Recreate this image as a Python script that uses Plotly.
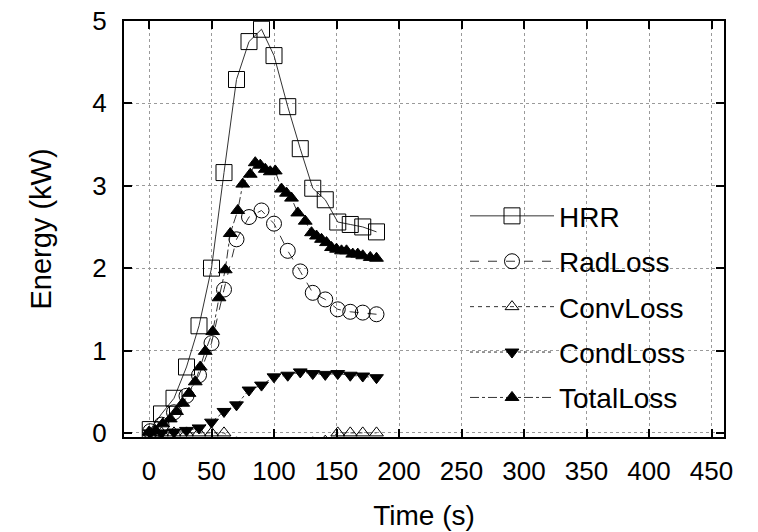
import plotly.graph_objects as go

# ---- data ----
time_s = [1, 10, 20, 30, 40, 50, 60, 70, 80, 90, 100, 111, 121, 131, 141, 151, 161, 171, 182]
hrr = [0.04, 0.23, 0.42, 0.80, 1.30, 2.00, 3.16, 4.29, 4.75, 4.90, 4.58, 3.96, 3.45, 2.97, 2.83, 2.56, 2.53, 2.50, 2.44]
rad_loss = [0.02, 0.10, 0.25, 0.45, 0.70, 1.09, 1.74, 2.35, 2.62, 2.70, 2.54, 2.21, 1.96, 1.70, 1.62, 1.50, 1.47, 1.46, 1.44]
conv_loss = [0.0, 0.0, 0.0, 0.0, 0.0, 0.0, 0.0, -0.12, -0.15, -0.2, -0.2, -0.15, -0.15, -0.12, -0.1, 0.0, 0.0, 0.0, 0.0]
cond_loss = [0.0, 0.0, 0.01, 0.03, 0.06, 0.13, 0.26, 0.34, 0.52, 0.58, 0.68, 0.70, 0.74, 0.72, 0.71, 0.72, 0.70, 0.69, 0.67]

total_time = [0, 5, 11, 17, 22, 27, 32, 37, 41, 45, 51, 56, 61, 65, 71, 75, 81, 85, 89, 93,
              97, 101, 106, 110, 114, 119, 125, 130, 134, 138, 142, 146, 150, 154, 158, 163,
              167, 171, 177, 182]
total_loss = [0.01, 0.03, 0.11, 0.17, 0.26, 0.36, 0.48, 0.62, 0.80, 0.99, 1.23, 1.64, 1.98, 2.42,
              2.70, 3.02, 3.14, 3.28, 3.25, 3.20, 3.17, 3.18, 2.96, 2.91, 2.85, 2.67, 2.57, 2.43,
              2.39, 2.35, 2.31, 2.25, 2.23, 2.21, 2.21, 2.17, 2.17, 2.15, 2.13, 2.12]

x_ticks = [0, 50, 100, 150, 200, 250, 300, 350, 400, 450]
y_ticks = [0, 1, 2, 3, 4, 5]

FONT = "Liberation Sans, Arial, Helvetica, sans-serif"
LC = "#333333"

series = [
    ("HRR", time_s, hrr, "solid", "square-open", 16),
    ("RadLoss", time_s, rad_loss, "dash", "circle-open", 15),
    ("ConvLoss", time_s, conv_loss, "4px,4px", "triangle-up-open", 12),
    ("CondLoss", time_s, cond_loss, "dot", "triangle-down", 12),
    ("TotalLoss", total_time, total_loss, "dashdot", "triangle-up", 12),
]

fig = go.Figure()
for name, xs, ys, dash, sym, sz in series:
    fig.add_trace(go.Scatter(
        x=xs, y=ys, name=name, mode="lines+markers", legendgroup=name,
        line=dict(color=LC, width=1, dash=dash),
        marker=dict(symbol=sym, size=sz, color="black", line=dict(color="black", width=1)),
    ))

axis_common = dict(
    showline=True, linecolor="black", linewidth=2, mirror="ticks",
    ticks="inside", ticklen=8, tickwidth=2, tickcolor="black",
    showgrid=True, gridcolor="#9a9a9a", gridwidth=1, griddash="dot",
    zeroline=False, automargin=False,
    tickfont=dict(family=FONT, size=26, color="black"),
)

fig.update_layout(
    width=758, height=532,
    margin=dict(l=124, r=34, t=21, b=95),
    paper_bgcolor="white", plot_bgcolor="white",
    font=dict(family=FONT, color="black"),
    xaxis=dict(range=[-20, 460], tickvals=x_ticks, ticklabelstandoff=10,
               title=dict(text="Time (s)", font=dict(size=28), standoff=20), **axis_common),
    yaxis=dict(range=[-0.05, 5], tickvals=y_ticks, ticklabelstandoff=10,
               title=dict(text="Energy (kW)", font=dict(size=29), standoff=32), **axis_common),
    legend=dict(x=0.945, xanchor="right", y=0.591, yanchor="top",
                bgcolor="rgba(0,0,0,0)", font=dict(family=FONT, size=28, color="black"),
                itemwidth=84, tracegroupgap=6),
    showlegend=True,
)

fig.write_html("out.html")
